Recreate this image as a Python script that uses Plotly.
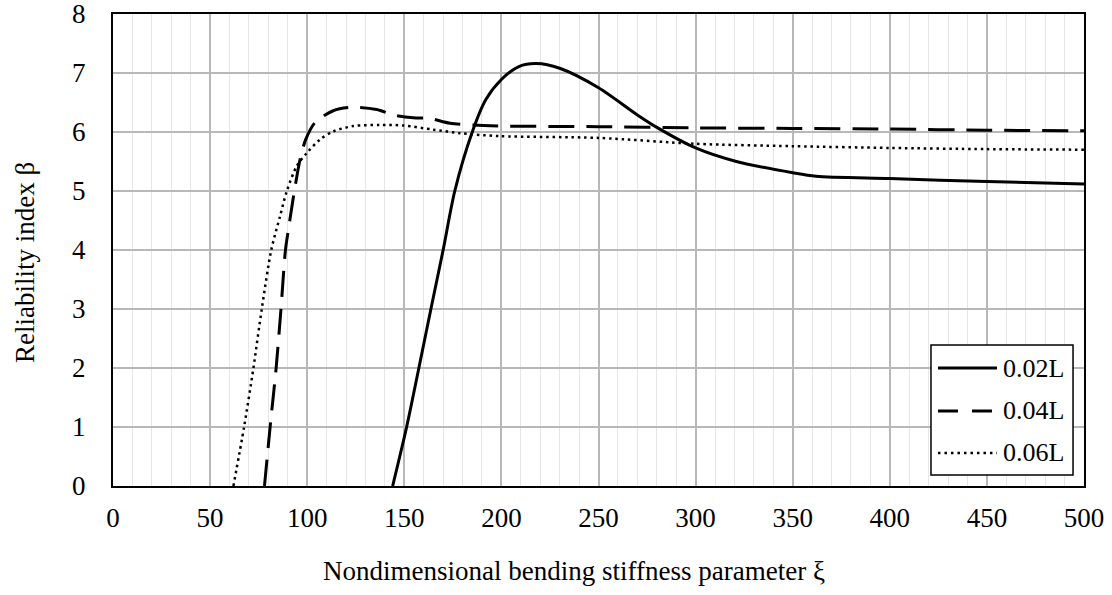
import plotly.graph_objects as go

xi_002 = [144, 151.2, 157.5, 163.7, 170, 176, 185, 192, 200, 209, 218, 230, 250, 270, 280.5, 300, 321, 350, 362, 400, 450, 500]
beta_002 = [0, 1, 2, 3, 4, 5, 6, 6.55, 6.89, 7.11, 7.16, 7.08, 6.75, 6.29, 6.07, 5.73, 5.5, 5.31, 5.25, 5.21, 5.16, 5.12]

xi_004 = [78, 80.9, 84, 86.5, 88.8, 90.3, 93.4, 96.3, 99.2, 104, 113.4, 123.7, 135.8, 144.3, 154.6, 163.2, 173.5, 190.7, 200, 250, 300, 350, 400, 450, 500]
beta_004 = [0, 1, 2, 3, 4, 4.34, 5, 5.53, 5.87, 6.16, 6.36, 6.42, 6.38, 6.29, 6.24, 6.23, 6.15, 6.11, 6.10, 6.09, 6.07, 6.06, 6.05, 6.03, 6.02]

xi_006 = [62, 67.5, 72.3, 76.6, 81.5, 86, 89.5, 94.6, 99.7, 106.5, 113.4, 123.7, 137.4, 149.5, 165, 178.6, 199, 250, 300, 350, 400, 450, 500]
beta_006 = [0, 1, 2, 3, 4, 4.57, 5, 5.42, 5.64, 5.87, 6.01, 6.1, 6.12, 6.11, 6.04, 5.98, 5.93, 5.90, 5.80, 5.76, 5.73, 5.71, 5.70]

series_names = ["0.02L", "0.04L", "0.06L"]
series_x = [xi_002, xi_004, xi_006]
series_y = [beta_002, beta_004, beta_006]
series_dash = ["solid", "26px,12px", "2.5px,3.8px"]
series_width = [3, 3, 2.5]

x_title = "Nondimensional bending stiffness parameter ξ"
y_title = "Reliability index β"

FONT = "Liberation Serif, Times New Roman, DejaVu Serif, serif"
FS = 27

fig = go.Figure()
for name, xs, ys, dash, w in zip(series_names, series_x, series_y, series_dash, series_width):
    fig.add_trace(go.Scatter(x=xs, y=ys, mode="lines", name=name, showlegend=False,
                             line=dict(color="black", width=w, dash=dash,
                                       shape="spline", smoothing=0.8)))

# Hand-drawn legend box (paper coordinates)
leg_x0, leg_x1, leg_y0, leg_y1 = 0.8424, 0.9887, 0.0233, 0.2987
row_y = [0.250, 0.159, 0.070]
sample_x0, sample_x1, text_x = 0.8496, 0.9104, 0.9150
fig.add_shape(type="rect", xref="paper", yref="paper", x0=leg_x0, x1=leg_x1, y0=leg_y0, y1=leg_y1,
              line=dict(color="black", width=1.5), fillcolor="white", layer="above")
legend_dash = ["solid", "20px,14px", "2.5px,4px"]
for name, ry, dash, w in zip(series_names, row_y, legend_dash, series_width):
    fig.add_shape(type="line", xref="paper", yref="paper", x0=sample_x0, x1=sample_x1, y0=ry, y1=ry,
                  line=dict(color="black", width=w, dash=dash), layer="above")
    fig.add_annotation(xref="paper", yref="paper", x=text_x, y=ry, text=name, showarrow=False,
                       xanchor="left", yanchor="middle",
                       font=dict(family=FONT, size=26, color="black"))

# Axis titles (placed like the original, centred on the figure rather than the plot area)
fig.add_annotation(xref="paper", yref="paper", x=0.4748, y=-0.180, text=x_title, showarrow=False,
                   xanchor="center", yanchor="middle", font=dict(family=FONT, size=FS, color="black"))
fig.add_annotation(xref="paper", yref="paper", x=-0.0906, y=0.4725, text=y_title, showarrow=False,
                   textangle=-90, xanchor="center", yanchor="middle",
                   font=dict(family=FONT, size=FS, color="black"))

fig.update_layout(
    width=1112, height=595,
    margin=dict(l=113, r=28, t=14, b=109),
    paper_bgcolor="white", plot_bgcolor="white",
    font=dict(family=FONT, size=FS, color="black"),
    showlegend=False,
)
fig.update_xaxes(
    range=[0, 500], dtick=50, tick0=0, automargin=False, ticklabeloverflow="allow",
    showline=True, linecolor="black", linewidth=2, mirror=True,
    showgrid=True, gridcolor="#b8b8b8", gridwidth=1.5,
    minor=dict(dtick=10, showgrid=True, gridcolor="#e6e6e6", gridwidth=1),
    zeroline=False, ticks="", ticklabelstandoff=7,
    tickfont=dict(family=FONT, size=FS, color="black"),
)
fig.update_yaxes(
    range=[0, 8], dtick=1, tick0=0, automargin=False, ticklabeloverflow="allow",
    showline=True, linecolor="black", linewidth=2, mirror=True,
    showgrid=True, gridcolor="#b8b8b8", gridwidth=1.5,
    zeroline=False, ticks="", ticklabelstandoff=20,
    tickfont=dict(family=FONT, size=FS, color="black"),
)

fig.write_html("out.html")
